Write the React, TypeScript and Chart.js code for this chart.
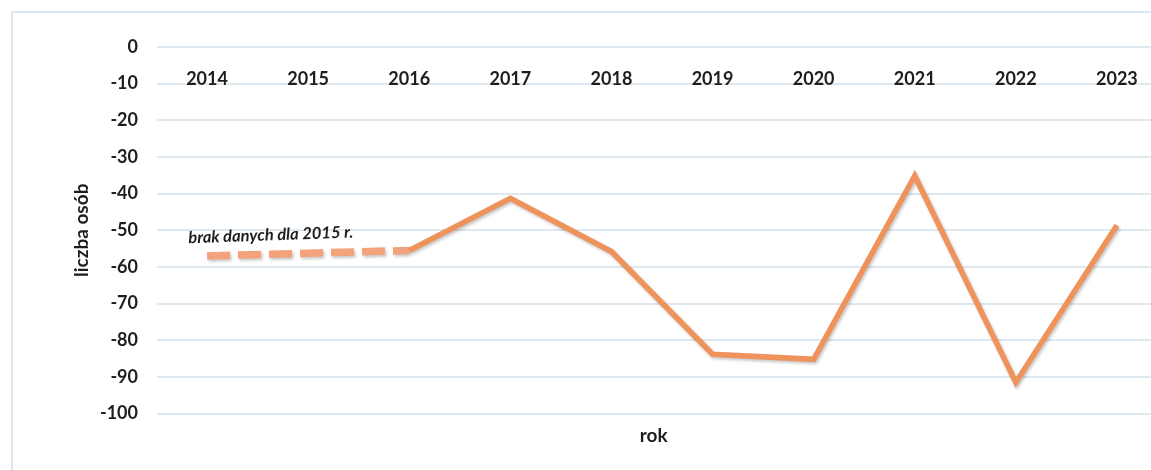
import React, { useEffect, useRef } from "react";
import { Chart, registerables } from "chart.js";

Chart.register(...registerables);

const years: number[] = [2014, 2015, 2016, 2017, 2018, 2019, 2020, 2021, 2022, 2023];
const values: (number | null)[] = [-57, null, -55.5, -41.3, -55.8, -83.8, -85.2, -35.1, -91.5, -48.6];
const yTicks: number[] = [0, -10, -20, -30, -40, -50, -60, -70, -80, -90, -100];
const yTitle = "liczba osób";
const xTitle = "rok";
const noteText = "brak danych dla 2015 r.";

const LINE = "#ef935c";
const DASH = "#f4a27c";
const GRID = "#dfe7ef";
const TEXT = "#1e1e1e";
const FONT = "Lato, 'Open Sans', sans-serif";

const shadowPlugin = {
  id: "lineShadow",
  beforeDatasetDraw(chart: any) {
    const ctx = chart.ctx;
    ctx.save();
    ctx.shadowColor = "rgba(0,0,0,0.22)";
    ctx.shadowBlur = 3;
    ctx.shadowOffsetX = 1.5;
    ctx.shadowOffsetY = 2;
  },
  afterDatasetDraw(chart: any) {
    chart.ctx.restore();
  },
};

const notePlugin = {
  id: "note",
  afterDatasetsDraw(chart: any) {
    const { ctx, scales } = chart;
    const x = scales.x.getPixelForValue(2014.63);
    const y = scales.y.getPixelForValue(-51.3);
    ctx.save();
    ctx.translate(x, y);
    ctx.rotate(-0.035);
    ctx.font = `italic bold 16.5px ${FONT}`;
    ctx.fillStyle = TEXT;
    ctx.textAlign = "center";
    ctx.textBaseline = "middle";
    ctx.fillText(noteText, 0, 0);
    ctx.restore();
  },
};

export default function App() {
  const ref = useRef<HTMLCanvasElement | null>(null);

  useEffect(() => {
    if (!ref.current) return;
    const chart = new Chart(ref.current, {
      type: "line",
      data: {
        datasets: [
          {
            data: years.map((yr, i) => ({ x: yr, y: values[i] })),
            borderColor: LINE,
            borderWidth: 5.5,
            pointRadius: 0,
            tension: 0,
            spanGaps: true,
            borderJoinStyle: "miter",
            segment: {
              borderDash: (c: any) => (c.p0.skip || c.p1.skip ? [23, 8] : undefined),
              borderColor: (c: any) => (c.p0.skip || c.p1.skip ? DASH : undefined),
              borderWidth: (c: any) => (c.p0.skip || c.p1.skip ? 7.5 : undefined),
            },
          } as any,
        ],
      },
      plugins: [shadowPlugin, notePlugin],
      options: {
        animation: false,
        responsive: false,
        maintainAspectRatio: false,
        layout: { padding: { left: 0, right: 0, top: 5, bottom: 0 } },
        plugins: { legend: { display: false }, tooltip: { enabled: false } },
        scales: {
          x: {
            type: "linear",
            position: "top",
            min: 2013.5,
            max: 2023.337,
            afterFit: (s: any) => {
              s.paddingLeft = 0;
              s.paddingRight = 0;
            },
            grid: { display: false, drawTicks: false },
            border: { display: false },
            ticks: {
              stepSize: 1,
              includeBounds: false,
              mirror: true,
              padding: 21,
              maxRotation: 0,
              autoSkip: false,
              color: TEXT,
              font: { family: FONT, size: 18, weight: "bold" },
              callback: (v: any) => (years.includes(v) ? String(v) : ""),
            },
          },
          x2: {
            type: "linear",
            position: "bottom",
            display: true,
            afterFit: (s: any) => {
              s.paddingLeft = 0;
              s.paddingRight = 0;
            },
            grid: { display: false, drawTicks: false },
            border: { display: false },
            ticks: { display: false },
            title: {
              display: true,
              text: xTitle,
              color: TEXT,
              font: { family: FONT, size: 19, weight: "bold" },
              padding: { top: 10.8, bottom: 22.8 },
            },
          },
          y: {
            type: "linear",
            min: -100,
            max: 0,
            afterFit: (s: any) => {
              s.width = 156.5;
            },
            grid: { color: GRID, lineWidth: 2, drawTicks: false },
            border: { display: false },
            afterBuildTicks: (s: any) => {
              s.ticks = yTicks.map((v) => ({ value: v }));
            },
            ticks: {
              padding: 18.5,
              color: TEXT,
              font: { family: FONT, size: 18, weight: "bold" },
              callback: (v: any) => String(v),
            },
            title: {
              display: true,
              text: yTitle,
              color: TEXT,
              font: { family: FONT, size: 19, weight: "bold" },
              padding: { top: 70.8, bottom: 0 },
            },
          },
        },
      },
    });
    return () => chart.destroy();
  }, []);

  return (
    <div style={{ position: "fixed", left: 0, top: 0, width: 1151, height: 470, background: "#fff", overflow: "hidden" }}>
      <div
        style={{
          position: "absolute",
          left: 11,
          top: 11,
          width: 1200,
          height: 500,
          borderTop: "2px solid #dde7f1",
          borderLeft: "2px solid #dde7f1",
          boxSizing: "border-box",
        }}
      />
      <canvas ref={ref} width={1151} height={470} style={{ position: "absolute", left: 0, top: 0, width: 1151, height: 470 }} />
    </div>
  );
}
